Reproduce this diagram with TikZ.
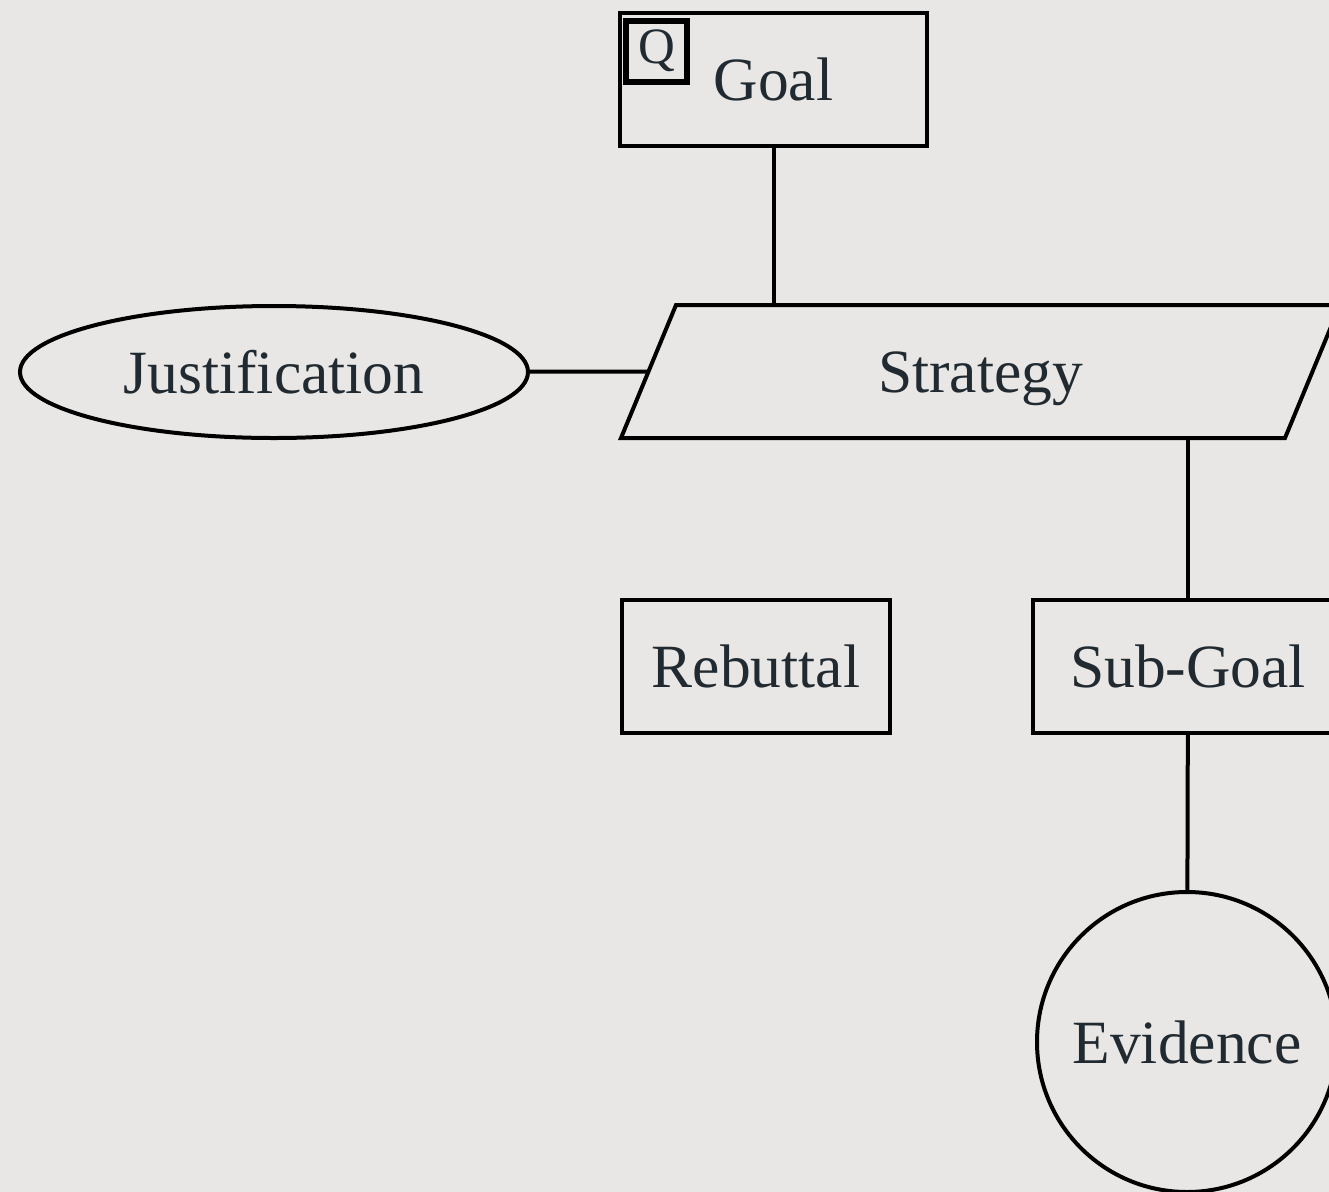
\documentclass[tikz,border=0pt]{standalone}
\usepackage{fontspec}
\setmainfont{Liberation Serif}
\usetikzlibrary{shapes.geometric}
\definecolor{paper}{RGB}{233,231,229}
\definecolor{ink}{RGB}{32,42,48}
\begin{document}
\begin{tikzpicture}[
    box/.style={draw, line width=0.08cm, rectangle, minimum height=2.66cm, text=ink, font=\fontsize{35}{40}\selectfont},
    oval/.style={draw, line width=0.08cm, ellipse, minimum width=10.16cm, minimum height=2.64cm, text=ink, font=\fontsize{35}{40}\selectfont},
    plain/.style={text=ink, font=\fontsize{35}{40}\selectfont},
    link/.style={line width=0.08cm}
]
\useasboundingbox[fill=paper] (0,0) rectangle (26.58,-23.84);
\clip (0,0) rectangle (26.58,-23.84);

\node[box, minimum width=6.14cm] (goal) at (15.47,-1.59) {Goal};
\node[draw, line width=0.12cm, minimum size=1.22cm, inner sep=0pt, text=ink, font=\fontsize{29}{31}\selectfont] (q) at (13.13,-1.02) {Q};

% strategy: parallelogram drawn round a plain node
\node[plain] (strategy) at (19.61,-7.58) {Strategy};
\draw[link, line join=miter] (12.42,-8.76) -- (13.52,-6.10) -- (26.80,-6.10) -- (25.70,-8.76) -- cycle;
\coordinate (strat-w) at (12.97,-7.43);
\coordinate (strat-n) at (15.47,-6.10);
\coordinate (strat-s) at (23.76,-8.76);

\node[oval] (just) at (5.48,-7.44) {Justification};
\node[box, minimum width=5.36cm] (rebut) at (15.12,-13.33) {Rebuttal};
\node[box, minimum width=6.2cm] (subgoal) at (23.76,-13.33) {Sub-Goal};
\node[draw, line width=0.08cm, circle, minimum size=6cm, text=ink, font=\fontsize{35}{40}\selectfont] (evid) at (23.74,-20.84) {Evidence};

\draw[link] (goal) -- (strat-n);
\draw[link] (just) -- (strat-w);
\draw[link] (subgoal) -- (strat-s);
\draw[link] (subgoal) -- (evid);
\end{tikzpicture}
\end{document}
